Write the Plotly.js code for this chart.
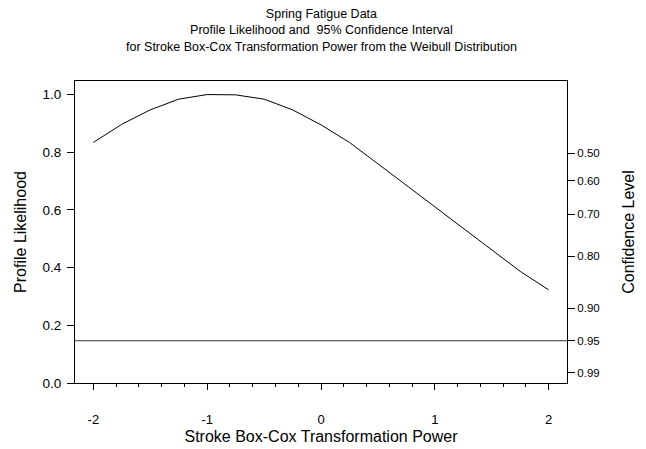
<!DOCTYPE html>
<html>
<head>
<meta charset="utf-8">
<script src="https://cdn.plot.ly/plotly-3.0.1.min.js"></script>
<style>html,body{margin:0;padding:0;background:#fff;}#chart{width:646px;height:449px;}</style>
</head>
<body>
<div id="chart"></div>
<script>
const powers = [-2, -1.75, -1.5, -1.25, -1, -0.75, -0.5, -0.25, 0, 0.25, 0.5, 0.75, 1, 1.25, 1.5, 1.75, 2];
const likelihood = [0.834, 0.897, 0.947, 0.984, 1.0, 0.999, 0.984, 0.947, 0.895, 0.834, 0.760, 0.686, 0.610, 0.535, 0.461, 0.387, 0.323];
const ciLevel = 0.1465;
const xTickVals = [-2, -1, 0, 1, 2];
const xTickText = ["-2", "-1", "0", "1", "2"];
const yTickVals = [0, 0.2, 0.4, 0.6, 0.8, 1.0];
const yTickText = ["0.0", "0.2", "0.4", "0.6", "0.8", "1.0"];
const confLevels = ["0.50", "0.60", "0.70", "0.80", "0.90", "0.95", "0.99"];
const confLikelihood = [0.7965, 0.7018, 0.5844, 0.4399, 0.2585, 0.1465, 0.0362];
const xRange = [-2.161, 2.161];
const titleText = 'Spring Fatigue Data<br>Profile Likelihood and  95% Confidence Interval<br>for Stroke Box-Cox Transformation Power from the Weibull Distribution';

const font = "Arial, 'Liberation Sans', sans-serif";

const traces = [
  {x: powers, y: likelihood, type: 'scatter', mode: 'lines',
   line: {color: '#000', width: 1}, hoverinfo: 'x+y', showlegend: false},
  {x: xRange, y: [ciLevel, ciLevel], type: 'scatter', mode: 'lines',
   line: {color: '#333', width: 1}, showlegend: false, hoverinfo: 'skip'},
  {x: [0], y: [null], yaxis: 'y2', type: 'scatter', mode: 'lines', showlegend: false, hoverinfo: 'skip'}
];

const layout = {
  width: 646, height: 449,
  margin: {l: 75, r: 79, t: 81, b: 66},
  paper_bgcolor: '#fff', plot_bgcolor: '#fff',
  font: {family: font, color: '#000'},
  annotations: [{
    text: titleText, xref: 'paper', yref: 'paper',
    x: 0.5, xanchor: 'center', y: 1 + 76 / 302, yanchor: 'top',
    showarrow: false, align: 'center',
    font: {size: 12.5, family: font, color: '#000'}
  }],
  xaxis: {
    range: xRange, showgrid: false, zeroline: false,
    showline: true, linecolor: '#000', linewidth: 1, mirror: true,
    ticks: 'outside', ticklen: 6, tickcolor: '#000', tickwidth: 1,
    tickvals: xTickVals, ticktext: xTickText,
    tickfont: {size: 13, family: font}, ticklabelstandoff: 18,
    minor: {dtick: 0.2, tick0: 0, ticks: 'outside', ticklen: 3, tickcolor: '#000', tickwidth: 1, showgrid: false},
    title: {text: 'Stroke Box-Cox Transformation Power', font: {size: 16, family: font}, standoff: 5}
  },
  yaxis: {
    range: [0, 1.047], showgrid: false, zeroline: false,
    showline: true, linecolor: '#000', linewidth: 1,
    ticks: 'outside', ticklen: 7, tickcolor: '#000', tickwidth: 1,
    tickvals: yTickVals, ticktext: yTickText,
    tickfont: {size: 13.5, family: font}, ticklabelstandoff: 3,
    title: {text: 'Profile Likelihood', font: {size: 16, family: font}, standoff: 11}
  },
  yaxis2: {
    overlaying: 'y', side: 'right', range: [0, 1.047],
    showgrid: false, zeroline: false,
    showline: true, linecolor: '#000', linewidth: 1,
    ticks: 'outside', ticklen: 7, tickcolor: '#000', tickwidth: 1,
    tickvals: confLikelihood, ticktext: confLevels,
    tickfont: {size: 11.5, family: font},
    title: {text: 'Confidence Level', font: {size: 16, family: font}, standoff: 24}
  }
};

Plotly.newPlot('chart', traces, layout, {displayModeBar: false, staticPlot: true});
</script>
</body>
</html>
